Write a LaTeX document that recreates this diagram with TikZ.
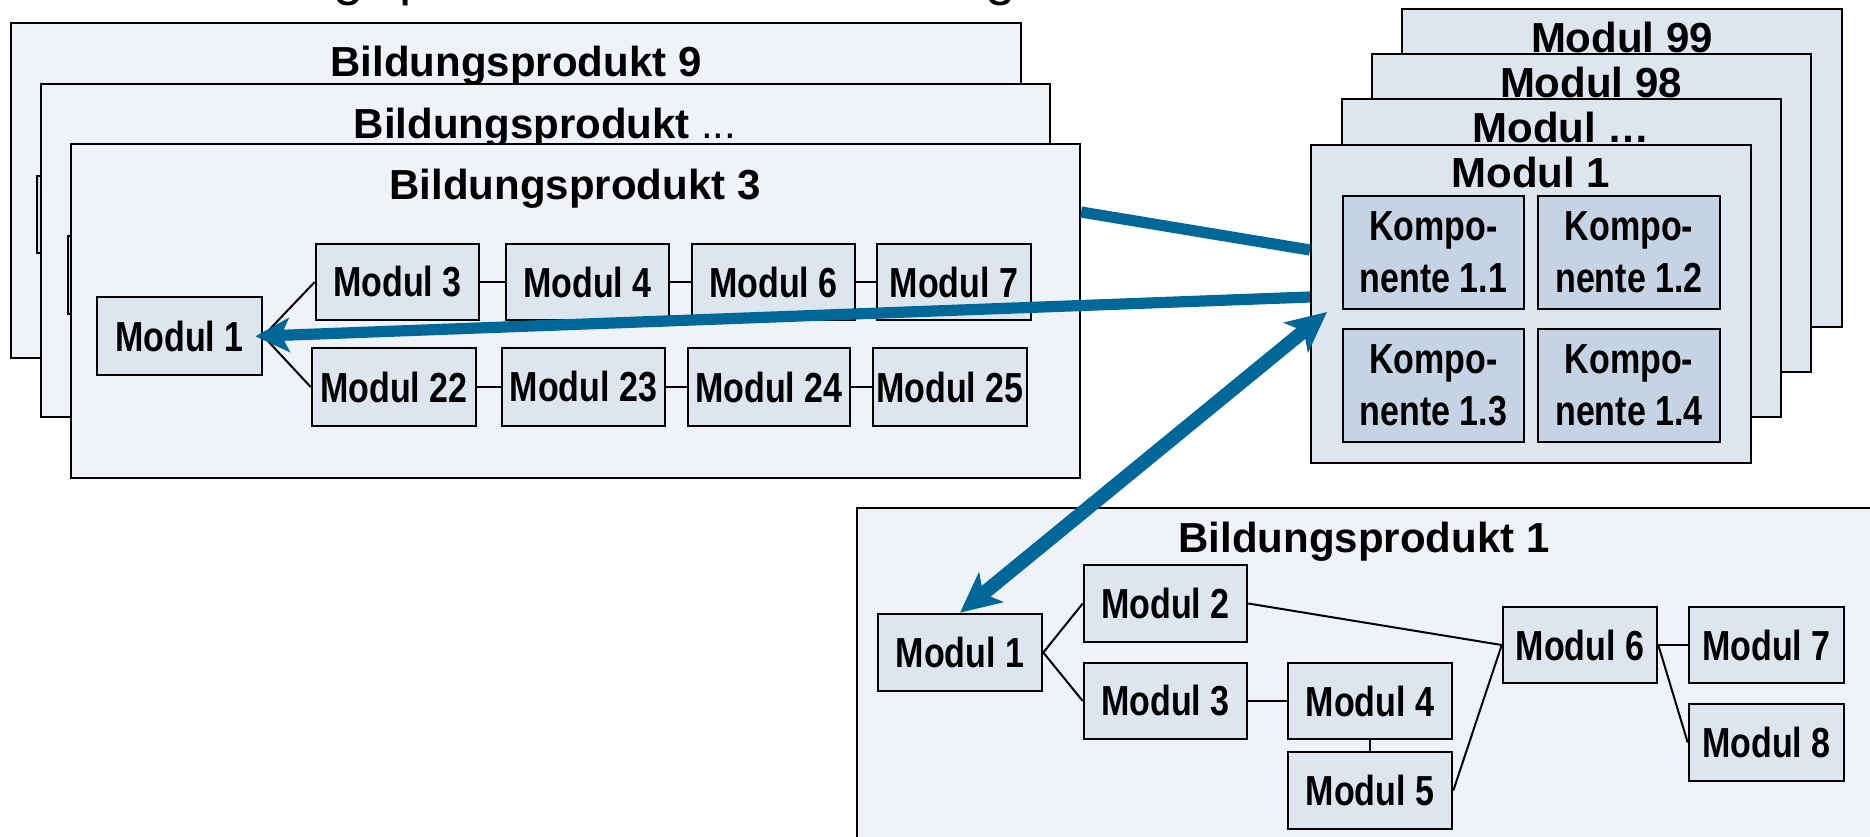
\documentclass[tikz,border=0pt]{standalone}
\usepackage{fontspec}
\setmainfont{Liberation Sans}
\newfontfamily\narrowsans{Liberation Sans}[FakeStretch=0.81]
\usetikzlibrary{arrows.meta}

\definecolor{framefill}{RGB}{239,243,248}
\definecolor{boxfill}{RGB}{221,229,238}
\definecolor{compfill}{RGB}{197,211,228}
\definecolor{linkblue}{RGB}{0,104,152}

\tikzset{
  % a rectangle given by its corners (left, top, right, bottom) in pixel units
  corners/.style n args={4}{at={({(#1+#3)/2},{(#2+#4)/2})},
    minimum width={(#3-#1)*0.5pt}, minimum height={(#4-#2)*0.5pt}},
  bpframe/.style={draw=black, line width=1.1pt, fill=framefill, inner sep=0pt},
  stackbox/.style={draw=black, line width=1.1pt, fill=boxfill, inner sep=0pt},
  modbox/.style={draw=black, line width=1.3pt, fill=boxfill, inner sep=0pt,
    font=\narrowsans\bfseries\fontsize{21}{25}\selectfont},
  compbox/.style={modbox, fill=compfill, align=center,
    font=\narrowsans\bfseries\fontsize{21}{26}\selectfont},
  title/.style={anchor=base, inner sep=0pt, font=\bfseries\fontsize{21}{25}\selectfont},
  headline/.style={anchor=base west, inner sep=0pt, font=\fontsize{27.5}{30}\selectfont},
  link/.style={draw=black, line width=1pt},
  bluelink/.style={draw=linkblue, line width=5.6pt},
  bluewide/.style={draw=linkblue, line width=7pt},
  bluetip/.tip={Stealth[length=17pt, width=17pt, inset=4pt]},
  bigtip/.tip={Stealth[length=20pt, width=19pt, inset=5pt]},
}

\begin{document}
\begin{tikzpicture}[x=0.5pt, y=-0.5pt]
\useasboundingbox (0,0) rectangle (1870,836);

% descenders of the heading line above the picture
\node[headline] (hg1) at (333,-5.5) {g};
\node[headline] (hp)  at (399,-5.5) {p};
\node[headline] (hg2) at (985,-5.5) {g};

% ---- stacked education products, back to front ----
\node[bpframe, corners={11}{23}{1021}{358}] (bp9) {};
\node[title] (bp9t) at (516,76) {Bildungsprodukt 9};
\node[modbox, corners={37}{176}{202}{253}] (b9m1) {};

\node[bpframe, corners={41}{84}{1050}{417}] (bpx) {};
\node[title] (bpxt) at (545,138) {Bildungsprodukt {\mdseries...}};
\node[modbox, corners={68}{236}{233}{314}] (bxm1) {};

\node[bpframe, corners={71}{144}{1080}{478}] (bp3) {};
\node[title] (bp3t) at (575,199) {Bildungsprodukt 3};

\node[modbox, corners={97}{297}{262}{375}]  (b3m1)  {Modul 1};
\node[modbox, corners={316}{244}{479}{320}] (b3m3)  {Modul 3};
\node[modbox, corners={506}{244}{669}{320}] (b3m4)  {Modul 4};
\node[modbox, corners={692}{244}{855}{320}] (b3m6)  {Modul 6};
\node[modbox, corners={877}{244}{1031}{320}] (b3m7) {Modul 7};
\node[modbox, corners={312}{348}{476}{426}] (b3m22) {Modul 22};
\node[modbox, corners={502}{348}{665}{426}] (b3m23) {Modul 23};
\node[modbox, corners={688}{348}{850}{426}] (b3m24) {Modul 24};
\node[modbox, corners={873}{348}{1027}{426}] (b3m25) {Modul 25};

\draw[link] (b3m1.east) -- (b3m3.west);
\draw[link] (b3m1.east) -- (b3m22.west);
\draw[link] (b3m3.east) -- (b3m4.west);
\draw[link] (b3m4.east) -- (b3m6.west);
\draw[link] (b3m6.east) -- (b3m7.west);
\draw[link] (b3m22.east) -- (b3m23.west);
\draw[link] (b3m23.east) -- (b3m24.west);
\draw[link] (b3m24.east) -- (b3m25.west);

% ---- stack of modules with components ----
\node[stackbox, corners={1402}{9}{1842}{327}] (stk99) {};
\node[title] (stk99t) at (1622,52) {Modul 99};
\node[stackbox, corners={1372}{54}{1811}{372}] (stk98) {};
\node[title] (stk98t) at (1591,97) {Modul 98};
\node[stackbox, corners={1342}{99}{1781}{417}] (stkn) {};
\node[title] (stknt) at (1561,142) {Modul …};
\node[stackbox, corners={1311}{145}{1751}{463}] (stk1) {};
\node[title] (stk1t) at (1531,187) {Modul 1};

\node[compbox, corners={1343}{196}{1524}{309}] (k11) {Kompo-\\nente 1.1};
\node[compbox, corners={1538}{196}{1720}{309}] (k12) {Kompo-\\nente 1.2};
\node[compbox, corners={1343}{329}{1524}{442}] (k13) {Kompo-\\nente 1.3};
\node[compbox, corners={1538}{329}{1720}{442}] (k14) {Kompo-\\nente 1.4};

% ---- education product 1 ----
\node[bpframe, corners={857}{508}{1900}{900}] (bp1) {};
\node[title] (bp1t) at (1364,552) {Bildungsprodukt 1};

\node[modbox, corners={878}{614}{1042}{691}]   (b1m1) {Modul 1};
\node[modbox, corners={1084}{565}{1247}{642}]  (b1m2) {Modul 2};
\node[modbox, corners={1084}{663}{1247}{739}]  (b1m3) {Modul 3};
\node[modbox, corners={1288}{663}{1452}{739}]  (b1m4) {Modul 4};
\node[modbox, corners={1288}{752}{1452}{829}]  (b1m5) {Modul 5};
\node[modbox, corners={1503}{607}{1657}{683}]  (b1m6) {Modul 6};
\node[modbox, corners={1689}{607}{1844}{683}]  (b1m7) {Modul 7};
\node[modbox, corners={1689}{704}{1844}{781}]  (b1m8) {Modul 8};

\draw[link] (b1m1.east) -- (b1m2.west);
\draw[link] (b1m1.east) -- (b1m3.west);
\draw[link] (b1m2.east) -- (b1m6.west);
\draw[link] (b1m3.east) -- (b1m4.west);
\draw[link] (b1m4.south) -- (b1m5.north);
\draw[link] (b1m5.east) -- (b1m6.west);
\draw[link] (b1m6.east) -- (b1m7.west);
\draw[link] (b1m6.east) -- (b1m8.west);

% ---- blue links between products and the module stack ----
\coordinate (l1s) at (bp3.east |- 0,212);
\coordinate (l1e) at (stk1.west |- 0,250);
\coordinate (a2s) at (stk1.west |- 0,297);
\coordinate (a3e) at (1327,312);

\draw[bluelink] (l1s) -- (l1e);
\draw[bluelink, -{bluetip}, shorten >=-4pt] (a2s) -- (b3m1.east);
\draw[bluewide, {bigtip}-{bigtip}] (b1m1.north) -- (a3e);
\end{tikzpicture}
\end{document}
